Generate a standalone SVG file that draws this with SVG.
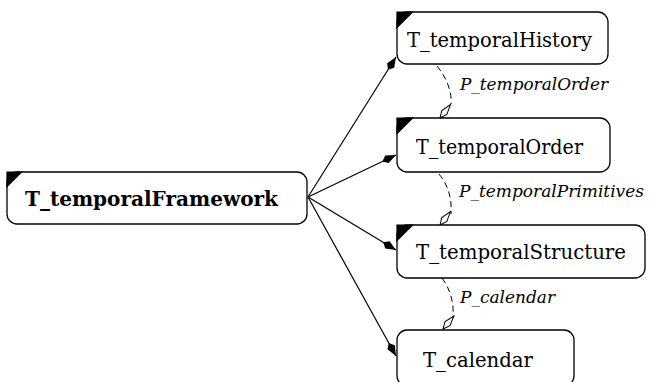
<svg xmlns="http://www.w3.org/2000/svg" xmlns:xlink="http://www.w3.org/1999/xlink" width="652" height="382" viewBox="0 0 652 382">
  <style>
    .box { fill: #ffffff; stroke: #000000; stroke-width: 1.3; }
    .corner { fill: #000000; }
    .name { font-family: "DejaVu Serif", "Liberation Serif", serif; font-size: 21px; fill: #000000; }
    .bold { font-weight: bold; }
    .slot { font-family: "DejaVu Serif", "Liberation Serif", serif; font-size: 17px; font-style: italic; fill: #000000; }
    .isa { fill: none; stroke: #000000; stroke-width: 1.2; marker-end: url(#solidHead); }
    .slotline { fill: none; stroke: #000000; stroke-width: 1; stroke-dasharray: 6 4; }
    .hollow { fill: #ffffff; stroke: #000000; stroke-width: 1; }
  </style>
  <defs>
    <marker id="solidHead" markerUnits="userSpaceOnUse" markerWidth="20" markerHeight="12" viewBox="-18 -6 20 12" refX="0" refY="0" orient="auto">
      <path d="M0,0 L-10,-4.2 L-15,0 L-10,4.2 Z" fill="#000000"/>
    </marker>
    <path id="hollowHead" d="M0,0 L-7,-3.2 L-17,0 L-7,3.2 Z"/>
  </defs>

  <rect width="652" height="382" fill="#ffffff"/>

  <!-- connectors -->
  <g id="connectors">
    <path class="isa" d="M308,197 L396,57"/>
    <path class="isa" d="M308,197 L396,155"/>
    <path class="isa" d="M308,197 L396,250"/>
    <path class="isa" d="M308,197 L396,356"/>

    <path class="slotline" d="M437,66 C447,78 452,92 451,104"/>
    <use href="#hollowHead" class="hollow" transform="translate(440,118) rotate(128)"/>
    <text class="slot" x="460" y="90" textLength="148" lengthAdjust="spacingAndGlyphs">P_temporalOrder</text>

    <path class="slotline" d="M439,174 C449,186 452,200 451,214"/>
    <use href="#hollowHead" class="hollow" transform="translate(440,225) rotate(128)"/>
    <text class="slot" x="459" y="197" textLength="185" lengthAdjust="spacingAndGlyphs">P_temporalPrimitives</text>

    <path class="slotline" d="M442,278 C451,290 454,304 453,317"/>
    <use href="#hollowHead" class="hollow" transform="translate(443,329) rotate(130)"/>
    <text class="slot" x="460" y="303" textLength="95" lengthAdjust="spacingAndGlyphs">P_calendar</text>
  </g>

  <g id="T_temporalFramework">
    <rect class="box" x="7" y="172" width="300" height="52" rx="10"/>
    <path class="corner" d="M6.4,171.4 H23 L6.4,188 Z"/>
    <text class="name bold" x="25" y="206" textLength="253" lengthAdjust="spacingAndGlyphs">T_temporalFramework</text>
  </g>

  <g id="T_temporalHistory">
    <rect class="box" x="397" y="12" width="211" height="52" rx="10"/>
    <path class="corner" d="M396.4,11.4 H414 L396.4,29 Z"/>
    <text class="name" x="407" y="47" textLength="185" lengthAdjust="spacingAndGlyphs">T_temporalHistory</text>
  </g>

  <g id="T_temporalOrder">
    <rect class="box" x="397" y="118" width="213" height="54" rx="10"/>
    <path class="corner" d="M396.4,117.4 H414 L396.4,135 Z"/>
    <text class="name" x="416" y="154" textLength="167" lengthAdjust="spacingAndGlyphs">T_temporalOrder</text>
  </g>

  <g id="T_temporalStructure">
    <rect class="box" x="397" y="225" width="248" height="53" rx="10"/>
    <path class="corner" d="M396.4,224.4 H414 L396.4,242 Z"/>
    <text class="name" x="416" y="259" textLength="210" lengthAdjust="spacingAndGlyphs">T_temporalStructure</text>
  </g>

  <g id="T_calendar">
    <rect class="box" x="397" y="330" width="177" height="56" rx="10"/>
    <text class="name" x="423" y="367" textLength="110" lengthAdjust="spacingAndGlyphs">T_calendar</text>
  </g>
</svg>
